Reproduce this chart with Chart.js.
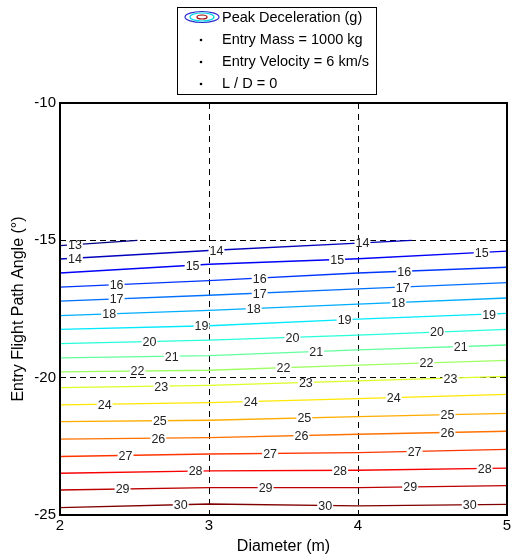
<!DOCTYPE html>
<html>
<head>
<meta charset="utf-8">
<title>Peak Deceleration Contours</title>
<script src="https://cdn.jsdelivr.net/npm/chart.js@4/dist/chart.umd.min.js"></script>
<style>
  html, body { margin: 0; padding: 0; background: #fff; }
  #wrap { width: 514px; height: 557px; }
</style>
</head>
<body>
<div id="wrap"><canvas id="chart" width="514" height="557"></canvas></div>
<script>
// Peak deceleration (g) contours over diameter and entry flight path angle

const levels = [13, 14, 15, 16, 17, 18, 19, 20, 21, 22, 23, 24, 25, 26, 27, 28, 29, 30];
const diameters = [2, 3, 4, 5];

// entry flight path angle (deg) where each contour level crosses the given diameter
const angleD2 = [-15.19, -15.68, -16.19, -16.70, -17.21, -17.74, -18.24, -18.76, -19.28, -19.79, -20.36, -20.99, -21.60, -22.24, -22.87, -23.48, -24.09, -24.73];
const angleD3 = [null, -15.37, -15.87, -16.47, -17.00, -17.55, -18.11, -18.63, -19.20, -19.73, -20.28, -20.91, -21.55, -22.18, -22.78, -23.39, -24.00, -24.60];
const angleD4 = [null, -15.10, -15.67, -16.19, -16.77, -17.32, -17.87, -18.45, -18.99, -19.54, -20.12, -20.76, -21.42, -22.06, -22.73, -23.37, -24.00, -24.67];
const angleD5 = [null, null, -15.39, -15.98, -16.54, -17.10, -17.66, -18.24, -18.81, -19.37, -19.95, -20.61, -21.30, -21.95, -22.61, -23.29, -23.93, -24.61];

// the swept angles stop at -15 deg; levels 13 and 14 run out of the grid there
const gridTopAngle = -15;
const exitDiameter = [2.52, 4.36];

// diameters where the level labels sit on each contour
const labelDiameters = [
  [2.10],
  [2.10, 3.05, 4.03],
  [2.89, 3.86, 4.83],
  [2.38, 3.34, 4.31],
  [2.38, 3.34, 4.30],
  [2.33, 3.30, 4.27],
  [2.95, 3.91, 4.88],
  [2.60, 3.56, 4.53],
  [2.75, 3.72, 4.69],
  [2.52, 3.50, 4.46],
  [2.68, 3.65, 4.62],
  [2.30, 3.28, 4.24],
  [2.67, 3.64, 4.60],
  [2.66, 3.62, 4.60],
  [2.44, 3.41, 4.38],
  [2.91, 3.88, 4.85],
  [2.42, 3.38, 4.35],
  [2.81, 3.78, 4.75]
];

const xTicks = [2, 3, 4, 5];
const yTicks = [-25, -20, -15, -10];
const xGrid = [3, 4];
const yGrid = [-20, -15];

const legendLines = ['Peak Deceleration (g)', 'Entry Mass = 1000 kg', 'Entry Velocity = 6 km/s', 'L / D = 0'];

const FONT = "'Liberation Sans', Arial, Helvetica, sans-serif";

// MATLAB style jet colormap
function jet(t) {
  const c = v => Math.round(255 * Math.max(0, Math.min(1, v)));
  return `rgb(${c(1.5 - Math.abs(4 * t - 3))},${c(1.5 - Math.abs(4 * t - 2))},${c(1.5 - Math.abs(4 * t - 1))})`;
}

function contourPoints(i) {
  const cols = [angleD2, angleD3, angleD4, angleD5];
  const pts = [];
  diameters.forEach((d, k) => {
    const a = cols[k][i];
    if (a !== null) pts.push({ x: d, y: a });
  });
  if (i < exitDiameter.length) pts.push({ x: exitDiameter[i], y: gridTopAngle });
  return pts;
}

function angleOnContour(pts, d) {
  for (let k = 0; k < pts.length - 1; k++) {
    const p = pts[k], q = pts[k + 1];
    if (d >= p.x && d <= q.x) return p.y + (q.y - p.y) * (d - p.x) / (q.x - p.x);
  }
  return pts[pts.length - 1].y;
}

const contours = levels.map((lv, i) => contourPoints(i));

const datasets = levels.map((lv, i) => ({
  label: String(lv),
  data: contours[i],
  borderColor: jet(i / (levels.length - 1)),
  borderWidth: 1.3,
  pointRadius: 0,
  tension: 0,
  fill: false
}));

// level numbers written along the contours
const contourLabels = {
  id: 'contourLabels',
  afterDatasetsDraw(chart) {
    const { ctx, scales: { x, y } } = chart;
    ctx.save();
    ctx.font = `12.5px ${FONT}`;
    ctx.textAlign = 'center';
    ctx.textBaseline = 'middle';
    levels.forEach((lv, i) => {
      labelDiameters[i].forEach(d => {
        const px = x.getPixelForValue(d);
        const py = y.getPixelForValue(angleOnContour(contours[i], d));
        const w = ctx.measureText(String(lv)).width;
        ctx.fillStyle = '#fff';
        ctx.fillRect(px - w / 2 - 1, py - 3, w + 2, 6);
        ctx.fillStyle = '#222';
        ctx.fillText(String(lv), px, py + 1);
      });
    });
    ctx.restore();
  }
};

// axes box and the boxed legend above the plot
const frameAndLegend = {
  id: 'frameAndLegend',
  afterDraw(chart) {
    const { ctx, chartArea: a } = chart;
    ctx.save();
    ctx.strokeStyle = '#000';
    ctx.lineWidth = 2;
    ctx.strokeRect(a.left, a.top, a.right - a.left, a.bottom - a.top);

    const bx = 177.5, by = 7.5, bw = 199, bh = 87;
    ctx.fillStyle = '#fff';
    ctx.fillRect(bx, by, bw, bh);
    ctx.lineWidth = 1;
    ctx.strokeRect(bx, by, bw, bh);

    // contour icon
    const cx = 202, cy = 17;
    const rings = [[17, 5.5, '#2b2bd0'], [12, 4, '#00d8e8'], [5, 2, '#a00000']];
    ctx.lineWidth = 1.2;
    rings.forEach(([rx, ry, col]) => {
      ctx.beginPath();
      ctx.ellipse(cx, cy, rx, ry, 0, 0, Math.PI * 2);
      ctx.strokeStyle = col;
      ctx.stroke();
    });

    ctx.fillStyle = '#000';
    ctx.font = `14.5px ${FONT}`;
    ctx.textAlign = 'left';
    ctx.textBaseline = 'middle';
    legendLines.forEach((t, k) => {
      const ty = 18 + k * 22;
      if (k > 0) {
        ctx.beginPath();
        ctx.arc(201, ty, 1.3, 0, Math.PI * 2);
        ctx.fill();
      }
      ctx.fillText(t, 222, ty);
    });
    ctx.restore();
  }
};

const gridColor = list => c => (c.tick && list.includes(c.tick.value)) ? '#000' : 'rgba(0,0,0,0)';

new Chart(document.getElementById('chart'), {
  type: 'line',
  data: { datasets },
  plugins: [contourLabels, frameAndLegend],
  options: {
    responsive: false,
    animation: false,
    events: [],
    layout: { padding: { top: 103, right: 7, left: 0, bottom: 0 } },
    plugins: { legend: { display: false }, tooltip: { enabled: false } },
    scales: {
      x: {
        type: 'linear',
        min: 2,
        max: 5,
        afterBuildTicks: s => { s.ticks = xTicks.map(v => ({ value: v })); },
        afterFit: s => { s.height = 42; },
        ticks: { color: '#000', font: { family: FONT, size: 15 }, padding: 2, maxRotation: 0 },
        grid: { drawTicks: false, color: gridColor(xGrid), lineWidth: 1 },
        border: { display: false, dash: [6, 5] },
        title: { display: true, text: 'Diameter (m)', color: '#000', font: { family: FONT, size: 16 }, padding: { top: 0, bottom: 1 } }
      },
      y: {
        type: 'linear',
        min: -25,
        max: -10,
        afterBuildTicks: s => { s.ticks = yTicks.map(v => ({ value: v })); },
        afterFit: s => { s.width = 60; },
        ticks: { color: '#000', font: { family: FONT, size: 15 }, padding: 4 },
        grid: { drawTicks: false, color: gridColor(yGrid), lineWidth: 1 },
        border: { display: false, dash: [6, 4] },
        title: { display: true, text: 'Entry Flight Path Angle (°)', color: '#000', font: { family: FONT, size: 16 }, padding: { top: 9, bottom: 0 } }
      }
    }
  }
});
</script>
</body>
</html>
